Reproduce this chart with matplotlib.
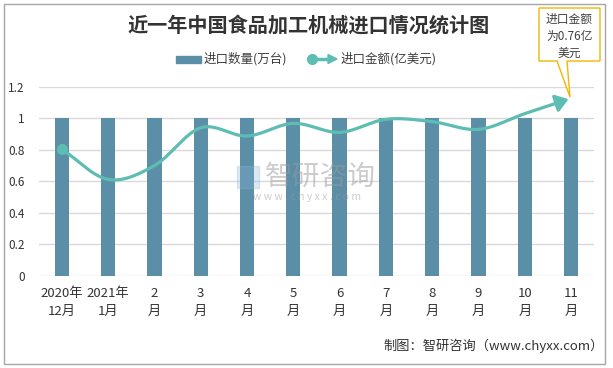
import numpy as np
import matplotlib
matplotlib.use("Agg")
import matplotlib.pyplot as plt
from matplotlib.patches import Rectangle, Polygon, FancyArrowPatch
from matplotlib.lines import Line2D

plt.rcParams['font.family'] = ['Noto Sans CJK SC', 'DejaVu Sans']

categories = ["2020年\n12月", "2021年\n1月", "2\n月", "3\n月", "4\n月", "5\n月",
              "6\n月", "7\n月", "8\n月", "9\n月", "10\n月", "11\n月"]
quantity = [1, 1, 1, 1, 1, 1, 1, 1, 1, 1, 1, 1]
amount = [0.805, 0.613, 0.70, 0.94, 0.888, 0.968, 0.911, 0.994, 0.979, 0.93, 1.03, 1.127]
yticks = [0, 0.2, 0.4, 0.6, 0.8, 1.0, 1.2]
ytick_labels = ["0", "0.2", "0.4", "0.6", "0.8", "1", "1.2"]

W, H = 613, 368
fig = plt.figure(figsize=(W / 100, H / 100), dpi=100)

def fx(px):
    return px / W

def fy(py):
    return 1 - py / H

bar_color = '#5b8ea7'
line_color = '#5dbdb2'

ax = fig.add_axes([fx(38.6), fy(276), fx(594.3) - fx(38.6), fy(86.8) - fy(276)])
x = np.arange(len(categories))
ax.bar(x, quantity, width=0.31, color=bar_color, zorder=2)

# Smooth curve (Catmull-Rom) through the data points
pts = np.column_stack([x, amount]).astype(float)
ext = np.vstack([2 * pts[0] - pts[1], pts, 2 * pts[-1] - pts[-2]])
sx, sy = [], []
for i in range(1, len(ext) - 2):
    p0, p1, p2, p3 = ext[i - 1], ext[i], ext[i + 1], ext[i + 2]
    for t in np.linspace(0, 1, 30, endpoint=(i == len(ext) - 3)):
        t2, t3 = t * t, t * t * t
        pt = 0.5 * ((2 * p1) + (-p0 + p2) * t + (2 * p0 - 5 * p1 + 4 * p2 - p3) * t2
                    + (-p0 + 3 * p1 - 3 * p2 + p3) * t3)
        sx.append(pt[0]); sy.append(pt[1])
sx = np.array(sx); sy = np.array(sy)
ax.plot(sx[:-8], sy[:-8], color=line_color, lw=2.3, zorder=3, solid_capstyle='round')
ax.add_patch(FancyArrowPatch((sx[-12], sy[-12]), (sx[-1], sy[-1]),
                             arrowstyle='-|>,head_length=5,head_width=3.5',
                             color=line_color, lw=2.3, zorder=4, mutation_scale=1.5))
ax.plot([x[0]], [amount[0]], 'o', color=line_color, ms=7, zorder=4)

ax.set_xlim(-0.5, len(categories) - 0.5)
ax.set_ylim(0, 1.2)
ax.set_yticks(yticks)
ax.set_yticklabels(ytick_labels, fontsize=8.5, color='#333333')
ax.set_xticks(x)
ax.set_xticklabels(categories, fontsize=9.5, color='#333333', linespacing=1.45)
ax.tick_params(axis='both', length=0)
ax.tick_params(axis='y', pad=10)
ax.tick_params(axis='x', pad=8)
for s in ax.spines.values():
    s.set_visible(False)
ax.grid(axis='y', color='#d9d9d9', lw=1, zorder=0)
ax.set_axisbelow(True)

# Watermark
fig.patches.append(Rectangle((fx(237), fy(188)), fx(259) - fx(237), fy(166) - fy(188),
                             transform=fig.transFigure, color='#8ab8d8', alpha=0.3, zorder=10))
fig.text(fx(265), fy(177), "智研咨询", fontsize=20, color='#9a9a9a', alpha=0.5, ha='left',
         va='center', zorder=10)
fig.text(fx(307), fy(197), "w w w . c h y x x . c o m", fontsize=7.5, color='#9a9a9a', alpha=0.5,
         ha='center', va='center', zorder=10)

# Title
fig.text(fx(309), fy(25), "近一年中国食品加工机械进口情况统计图", fontsize=14.5, fontweight='bold',
         color='#333333', ha='center', va='center')

# Legend
fig.patches.append(Rectangle((fx(176), fy(63)), fx(201) - fx(176), fy(56) - fy(63),
                             transform=fig.transFigure, color=bar_color))
fig.text(fx(204), fy(59), "进口数量(万台)", fontsize=9, color='#404040', ha='left', va='center')
fig.lines.append(Line2D([fx(312), fx(330)], [fy(59), fy(59)], transform=fig.transFigure,
                        color=line_color, lw=2.5))
fig.lines.append(Line2D([fx(312)], [fy(59)], transform=fig.transFigure, marker='o', ms=7,
                        color=line_color))
fig.patches.append(Polygon([(fx(328), fy(54.5)), (fx(337), fy(59)), (fx(328), fy(63.5))],
                           closed=True, transform=fig.transFigure, color=line_color))
fig.text(fx(341), fy(59), "进口金额(亿美元)", fontsize=9, color='#404040', ha='left', va='center')

# Callout
fig.patches.append(Polygon([(fx(539), fy(8)), (fx(600), fy(8)), (fx(600), fy(61)),
                            (fx(567), fy(61)), (fx(570), fy(97)), (fx(557), fy(61)),
                            (fx(539), fy(61))], closed=True, transform=fig.transFigure,
                           facecolor='white', edgecolor='#f2b705', lw=1, zorder=5))
fig.text(fx(569.5), fy(36), "进口金额\n为0.76亿\n美元", fontsize=8.5, color='#404040',
         ha='center', va='center', linespacing=1.4, zorder=6)

# Source
fig.text(fx(604), fy(346), "制图：智研咨询（www.chyxx.com）", fontsize=9.5, color='#333333',
         ha='right', va='center')

# Figure border
fig.patches.append(Rectangle((fx(4), fy(364)), fx(605) - fx(4), fy(4) - fy(364),
                             transform=fig.transFigure, fill=False, edgecolor='#a6a6a6', lw=1))

fig.savefig("out.png", dpi=100)
